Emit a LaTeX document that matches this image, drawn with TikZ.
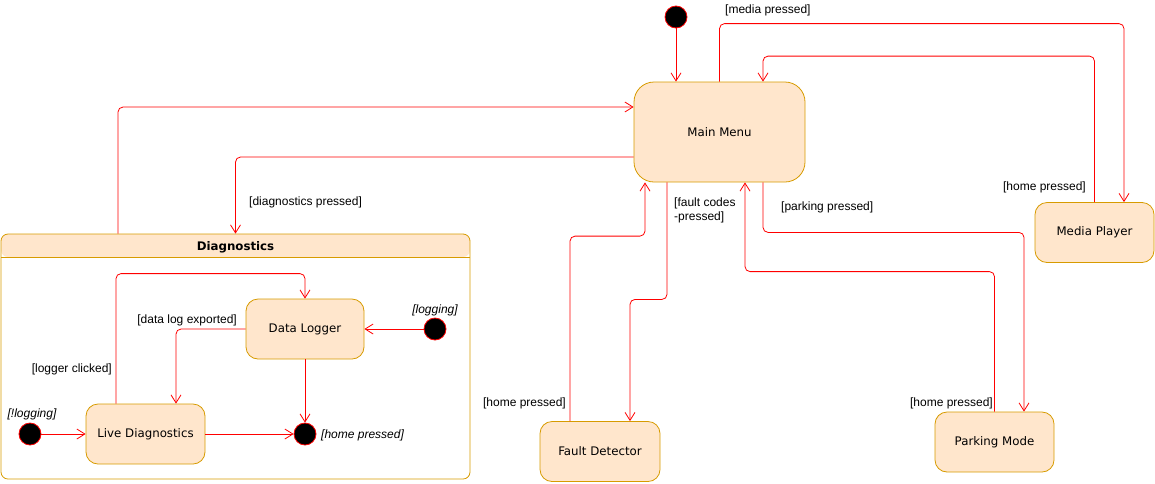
\documentclass[tikz,border=0pt]{standalone}
\usepackage{fontspec}
\setmainfont{Liberation Sans}
\newfontfamily\statefont{DejaVu Sans}
\usetikzlibrary{arrows.meta}
\definecolor{statefill}{HTML}{FFE6CC}
\definecolor{stateline}{HTML}{D79B00}
\definecolor{transred}{HTML}{FF0000}
\tikzset{
  state/.style={draw=stateline, fill=statefill, rounded corners=12pt, line width=0.8pt,
    minimum width=119pt, minimum height=60pt, inner sep=0pt,
    font=\statefont\fontsize{11.8}{14}\selectfont},
  dot/.style={circle, draw=transred, fill=black, minimum size=22pt, inner sep=0pt, line width=0.8pt},
  trans/.style={draw=transred, line width=0.8pt, rounded corners=5pt,
    -{Straight Barb[length=8pt,width=10pt]}},
  guard/.style={font=\fontsize{12}{13.5}\selectfont, inner sep=0pt, yshift=-1.5pt},
}
\begin{document}
\begin{tikzpicture}[x=1pt,y=-1pt]
        \useasboundingbox (0,0) rectangle (1155,483);

        % draw composite state
        \node[draw=stateline, rounded corners=7pt, line width=0.8pt, minimum width=469pt, minimum height=245pt,
          path picture={
            \fill[statefill] (path picture bounding box.north west) rectangle ([yshift=-23pt]path picture bounding box.north east);
            \draw[stateline, line width=0.8pt] ([yshift=-23pt]path picture bounding box.north west) -- ([yshift=-23pt]path picture bounding box.north east);
          }] (diag) at (235.5,356.5) {};
        \node[font=\statefont\bfseries\fontsize{11.8}{14}\selectfont] (diagtitle) at (235.5,247) {Diagnostics};

        % draw states
        \node[state, minimum width=171pt, minimum height=100pt, rounded corners=20pt] (mainmenu) at (719.5,132) {Main Menu};
        \node[state] (mediaplayer) at (1094.5,232.5) {Media Player};
        \node[state] (parkingmode) at (994.5,442) {Parking Mode};
        \node[state, minimum width=120pt] (faultdet) at (600,451.5) {Fault Detector};
        \node[state, minimum width=118pt] (datalogger) at (305,329) {Data Logger};
        \node[state] (livediag) at (145.5,434) {Live Diagnostics};

        % draw start and end dots
        \node[dot] (start) at (676,17) {};
        \node[dot] (logstart) at (435,329) {};
        \node[dot] (nologstart) at (30,434) {};
        \node[dot] (homeend) at (305,434) {};

        % draw transitions of the main menu
        \draw[trans] (start) -- (start |- mainmenu.north);
        \draw[trans] (mainmenu.north) -- ++(0,-58) -| ([xshift=29.5pt]mediaplayer.north);
        \draw[trans] (mediaplayer.north) -- ++(0,-146) -| ([xshift=43.5pt]mainmenu.north);
        \draw[trans] ([xshift=43.5pt]mainmenu.south) -- ++(0,50) -| ([xshift=29.5pt]parkingmode.north);
        \draw[trans] (parkingmode.north) -- ++(0,-140) -| ([xshift=25.5pt]mainmenu.south);
        \draw[trans] ([xshift=-52.5pt]mainmenu.south) -- ++(0,117) -| ([xshift=30pt]faultdet.north);
        \draw[trans] ([xshift=-30pt]faultdet.north) -- ++(0,-185) -| ([xshift=-74.5pt]mainmenu.south);
        \draw[trans] ([xshift=-117.5pt]diag.north) |- ([yshift=25pt]mainmenu.west);
        \draw[trans] ([yshift=-25pt]mainmenu.west) -| (diag.north);

        % draw transitions inside diagnostics
        \draw[trans] (logstart) -- (datalogger.east);
        \draw[trans] (nologstart) -- (livediag.west);
        \draw[trans] (datalogger.south) -- (homeend);
        \draw[trans] (livediag.east) -- (homeend);
        \draw[trans] (datalogger.west) -| ([xshift=30.5pt]livediag.north);
        \draw[trans] ([xshift=-29.5pt]livediag.north) -- ++(0,-130) -| (datalogger.north);

        % draw guards
        \node[guard, anchor=west] (gmedia) at (725,9) {[media pressed]};
        \node[guard, anchor=east] (ghomemedia) at (1086,186) {[home pressed]};
        \node[guard, anchor=west] (gparking) at (781,206) {[parking pressed]};
        \node[guard, anchor=east] (ghomeparking) at (993,402) {[home pressed]};
        \node[guard, anchor=west, align=left] (gfault) at (674,209) {[fault codes\\-pressed]};
        \node[guard, anchor=east] (ghomefault) at (566,402) {[home pressed]};
        \node[guard, anchor=west] (gdiag) at (249,201) {[diagnostics pressed]};
        \node[guard, anchor=east] (gexport) at (237,319) {[data log exported]};
        \node[guard, anchor=east] (glogger) at (112,368) {[logger clicked]};
        \node[guard, font=\itshape\fontsize{12}{13.5}\selectfont] (glog) at (435,309) {[logging]};
        \node[guard, font=\itshape\fontsize{12}{13.5}\selectfont] (gnolog) at (32,413) {[!logging]};
        \node[guard, anchor=west, font=\itshape\fontsize{12}{13.5}\selectfont] (ghomeend) at (321,434) {[home pressed]};
        \end{tikzpicture}
\end{document}
